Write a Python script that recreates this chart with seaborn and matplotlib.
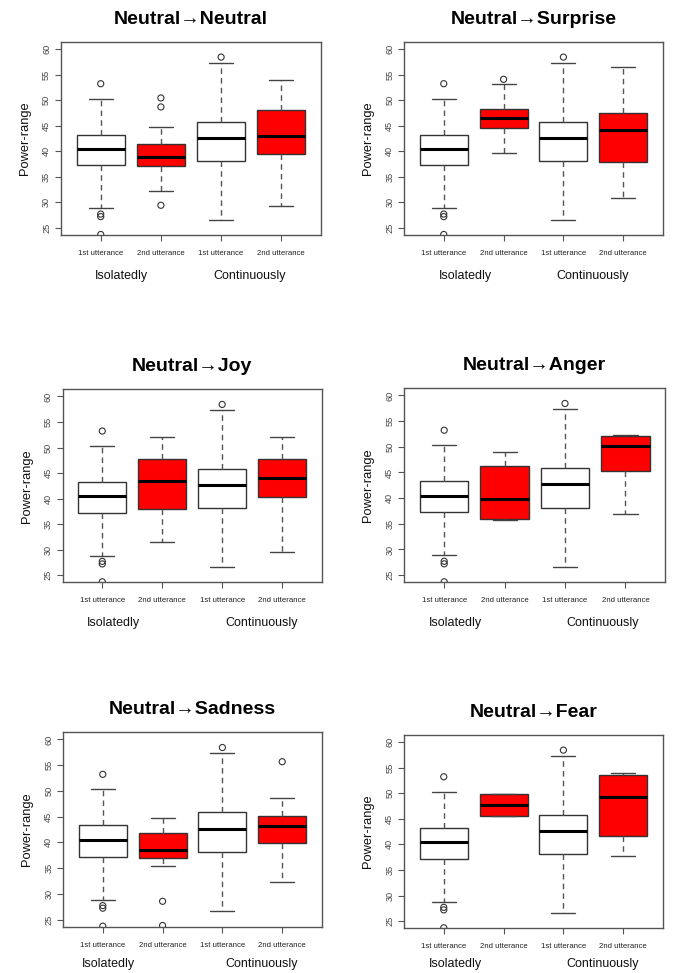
import matplotlib
matplotlib.use("Agg")
import matplotlib.pyplot as plt
import seaborn as sns
import pandas as pd
import numpy as np

# ---------------- data ----------------
titles = ["Neutral\u2192Neutral", "Neutral\u2192Surprise", "Neutral\u2192Joy",
          "Neutral\u2192Anger", "Neutral\u2192Sadness", "Neutral\u2192Fear"]
box_labels = ["1st utterance", "2nd utterance", "1st utterance", "2nd utterance"]
group_labels = ["Isolatedly", "Continuously"]
yticks = [25, 30, 35, 40, 45, 50, 55, 60]
ylabel = "Power-range"

# five-number stats: lower whisker, Q1, median, Q3, upper whisker
iso1_stats = [28.84, 37.23, 40.42, 43.28, 50.30]
iso1_fliers = [53.23, 27.70, 27.20, 23.70]
cont1_stats = [26.56, 38.07, 42.69, 45.82, 57.33]
cont1_fliers = [58.44]

iso2_stats = [
    [32.28, 37.03, 38.85, 41.46, 44.84],   # Neutral
    [39.74, 44.55, 46.56, 48.25, 53.18],   # Surprise
    [31.46, 37.86, 43.41, 47.79, 51.97],   # Joy
    [35.67, 35.99, 39.90, 46.20, 48.94],   # Anger
    [35.34, 37.04, 38.55, 41.75, 44.76],   # Sadness
    [45.48, 45.48, 47.70, 49.86, 49.86],   # Fear
]
iso2_fliers = [[50.44, 48.68, 29.42], [54.09], [], [], [28.54, 23.83], []]

cont2_stats = [
    [29.29, 39.37, 43.02, 48.03, 54.01],
    [30.84, 37.92, 44.22, 47.40, 56.43],
    [29.44, 40.28, 43.94, 47.80, 52.10],
    [36.84, 45.30, 50.11, 52.19, 52.39],
    [32.20, 39.92, 43.20, 45.08, 48.62],
    [37.70, 41.56, 49.21, 53.52, 54.05],
]
cont2_fliers = [[], [], [], [], [55.68], []]

fill_colors = {0: "white", 1: "#FF0000", 2: "white", 3: "#FF0000"}

# ---------------- layout ----------------
sns.set_style("white")
plt.rcParams["font.family"] = ["Liberation Sans", "DejaVu Sans"]

W, H = 673, 973
fig = plt.figure(figsize=(W / 100, H / 100), dpi=100)

frames = [(61, 42, 321, 235), (404.3, 42, 662.7, 235),
          (62.7, 389.3, 321.7, 582.3), (404.3, 388.3, 665.3, 582.3),
          (63.3, 732.3, 321.7, 926.7), (404.3, 735, 662.7, 928.3)]
group_pos = [(0.35, 2.48), (0.36, 2.49), (0.18, 2.65),
             (0.18, 2.62), (0.10, 2.65), (0.19, 2.65)]
group_off = [-29.5, -29.5, -29.5, -29.5, -26.6, -25.5]

line_color = "#333333"

for i, (l, t, r, b) in enumerate(frames):
    ax = fig.add_axes([l / W, 1 - b / H, (r - l) / W, (b - t) / H])
    stats = [iso1_stats, iso2_stats[i], cont1_stats, cont2_stats[i]]
    df = pd.DataFrame({"box": np.repeat(np.arange(4), 5),
                       "value": np.concatenate(stats)})
    sns.boxplot(data=df, x="box", y="value", hue="box", palette=fill_colors,
                order=[0, 1, 2, 3], legend=False, whis=(0, 100), width=0.8,
                saturation=1, linecolor=line_color, linewidth=1.0,
                showfliers=False,
                medianprops=dict(color="black", linewidth=2.2),
                whiskerprops=dict(linestyle=(0, (4, 3)), color="#555555"),
                capprops=dict(color="#444444"),
                capwidths=0.4, ax=ax)

    fl = [iso1_fliers, iso2_fliers[i], cont1_fliers, cont2_fliers[i]]
    fdf = pd.DataFrame({"box": np.concatenate([[k] * len(v) for k, v in enumerate(fl)]).astype(int),
                        "value": np.concatenate([np.array(v, float) for v in fl])})
    n_before = len(ax.collections)
    sns.stripplot(data=fdf, x="box", y="value", order=[0, 1, 2, 3], jitter=False,
                  color=line_color, size=4.4, linewidth=0.8, edgecolor=line_color,
                  ax=ax)
    for coll in ax.collections[n_before:]:
        coll.set_facecolor("none")
        coll.set_edgecolor(line_color)

    ax.set_xlim(-0.66, 3.66)
    ax.set_ylim(23.6, 61.4)
    ax.set_yticks(yticks)
    ax.set_yticklabels([str(v) for v in yticks], rotation=90, va="center",
                       fontsize=6.6, color="#444444")
    ax.set_xticks(range(4))
    ax.set_xticklabels(box_labels, fontsize=5.6, color="#222222")
    ax.tick_params(axis="both", bottom=True, left=True, direction="out",
                   length=4.2, width=0.8, color="#555555")
    ax.tick_params(axis="x", pad=6.5)
    ax.tick_params(axis="y", pad=3.0)
    for sp in ax.spines.values():
        sp.set_color("#555555")
        sp.set_linewidth(1.0)
        sp.set_visible(True)

    ax.set_xlabel("")
    ax.set_ylabel(ylabel, fontsize=9.3, color="#111111")
    ax.yaxis.set_label_coords(-36 / (r - l), 0.5)
    ax.yaxis.label.set_va("center")

    ax.annotate(titles[i], xy=(0.5, 1), xycoords="axes fraction",
                xytext=(0, 16.5), textcoords="offset points",
                ha="center", va="center", fontsize=14, fontweight="bold",
                color="black")
    for gx, gl in zip(group_pos[i], group_labels):
        ax.annotate(gl, xy=(gx, 0), xycoords=("data", "axes fraction"),
                    xytext=(0, group_off[i]), textcoords="offset points",
                    ha="center", va="center", fontsize=9, color="#111111",
                    annotation_clip=False)

fig.savefig("out.png", dpi=100)
